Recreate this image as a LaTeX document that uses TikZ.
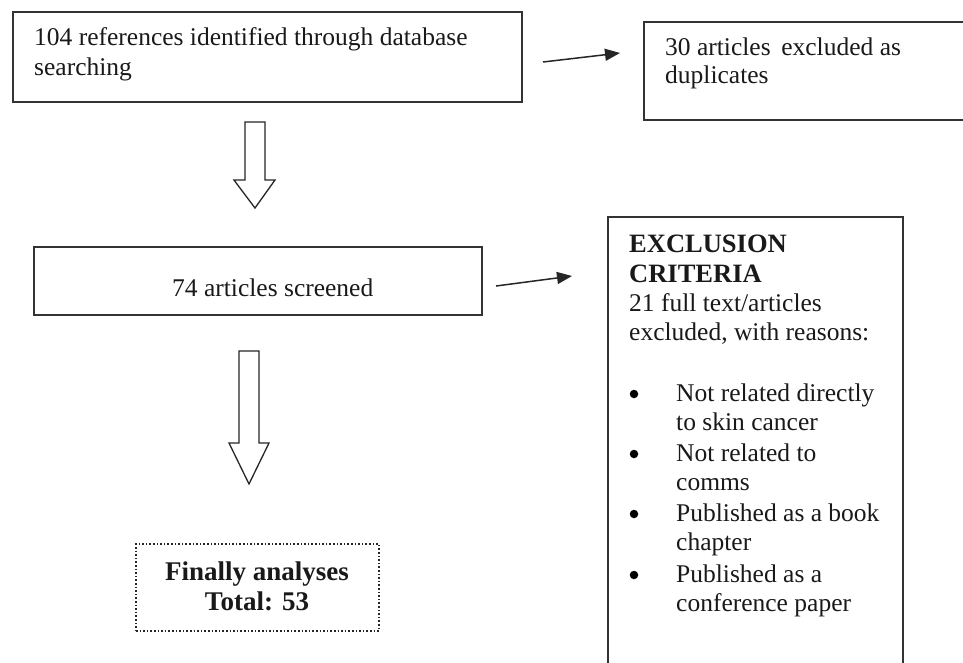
\documentclass[tikz,border=0pt]{standalone}
\usepackage{fontspec}
\setmainfont{Liberation Serif}
\usetikzlibrary{arrows.meta}
\begin{document}
\begin{tikzpicture}[x=1pt,y=-1pt,
  box/.style={draw=black!80, line width=1.4pt, inner sep=0pt, outer sep=0pt, anchor=north west},
  dotbox/.style={draw=black!85, line width=1.6pt, dotted, inner sep=0pt, outer sep=0pt, anchor=north west},
  txt/.style={anchor=base west, inner sep=0pt, text=black!90, font=\fontsize{25.5}{30}\selectfont},
  btxt/.style={anchor=base, inner sep=0pt, text=black!90, font=\fontsize{27}{30}\selectfont\bfseries},
  bhead/.style={anchor=base west, inner sep=0pt, text=black!90, font=\fontsize{26.5}{30}\selectfont\bfseries},
  bul/.style={circle, fill=black, draw=none, inner sep=0pt, minimum size=8.5pt},
  arr/.style={draw=black!85, line width=1.5pt, -{Triangle[length=15pt,width=12pt]}},
  blk/.style={draw=black!85, line width=1.3pt, fill=white, line join=miter}]
\useasboundingbox (0,0) rectangle (963,662);
\clip (0,0) rectangle (963,662);
\fill[white] (0,0) rectangle (963,662);

% boxes
\node[box, minimum width=509pt, minimum height=90pt] (b1) at (13,12) {};
\node[box, minimum width=346pt, minimum height=98pt] (b2) at (644,22) {};
\node[box, minimum width=448pt, minimum height=68pt] (b3) at (34,247) {};
\node[box, minimum width=295pt, minimum height=483pt] (b4) at (608,217) {};
\node[dotbox, minimum width=243pt, minimum height=87pt] (b5) at (136,544) {};

% texts
\node[txt] (t1a) at (34,45) {104 references identified through database};
\node[txt] (t1b) at (34,75) {searching};
\node[txt] (t2a) at (665,55) {30 articles\, excluded as};
\node[txt] (t2b) at (665,83) {duplicates};
\node[txt] (t3) at (172,296) {74 articles screened};
\node[btxt] (t5a) at (257,580) {Finally analyses};
\node[btxt] (t5b) at (257,610) {Total: 53};

\node[bhead] (t4a) at (629,252) {EXCLUSION};
\node[bhead] (t4b) at (629,282) {CRITERIA};
\node[txt] (t4c) at (629,311) {21 full text/articles};
\node[txt] (t4d) at (629,340) {excluded, with reasons:};

\node[bul] (u1) at (634,394) {};
\node[txt] (t4e) at (676,401) {Not related directly};
\node[txt] (t4f) at (676,430) {to skin cancer};
\node[bul] (u2) at (634,454) {};
\node[txt] (t4g) at (676,461) {Not related to};
\node[txt] (t4h) at (676,490) {comms};
\node[bul] (u3) at (634,514) {};
\node[txt] (t4i) at (676,521) {Published as a book};
\node[txt] (t4j) at (676,550) {chapter};
\node[bul] (u4) at (634,575) {};
\node[txt] (t4k) at (676,582) {Published as a};
\node[txt] (t4l) at (676,611) {conference paper};

% thin arrows
\coordinate (a1s) at (543,62);
\coordinate (a1e) at (620,53);
\coordinate (a2s) at (496,286);
\coordinate (a2e) at (572,276);
\draw[arr] (a1s) -- (a1e);
\draw[arr] (a2s) -- (a2e);

% block arrows
\draw[blk] (245,122) -- (265,122) -- (265,180) -- (275,180) -- (255,208) -- (234,180) -- (245,180) -- cycle;
\draw[blk] (239,351) -- (259,351) -- (259,443) -- (269,443) -- (249,484) -- (229,443) -- (239,443) -- cycle;
\end{tikzpicture}
\end{document}
